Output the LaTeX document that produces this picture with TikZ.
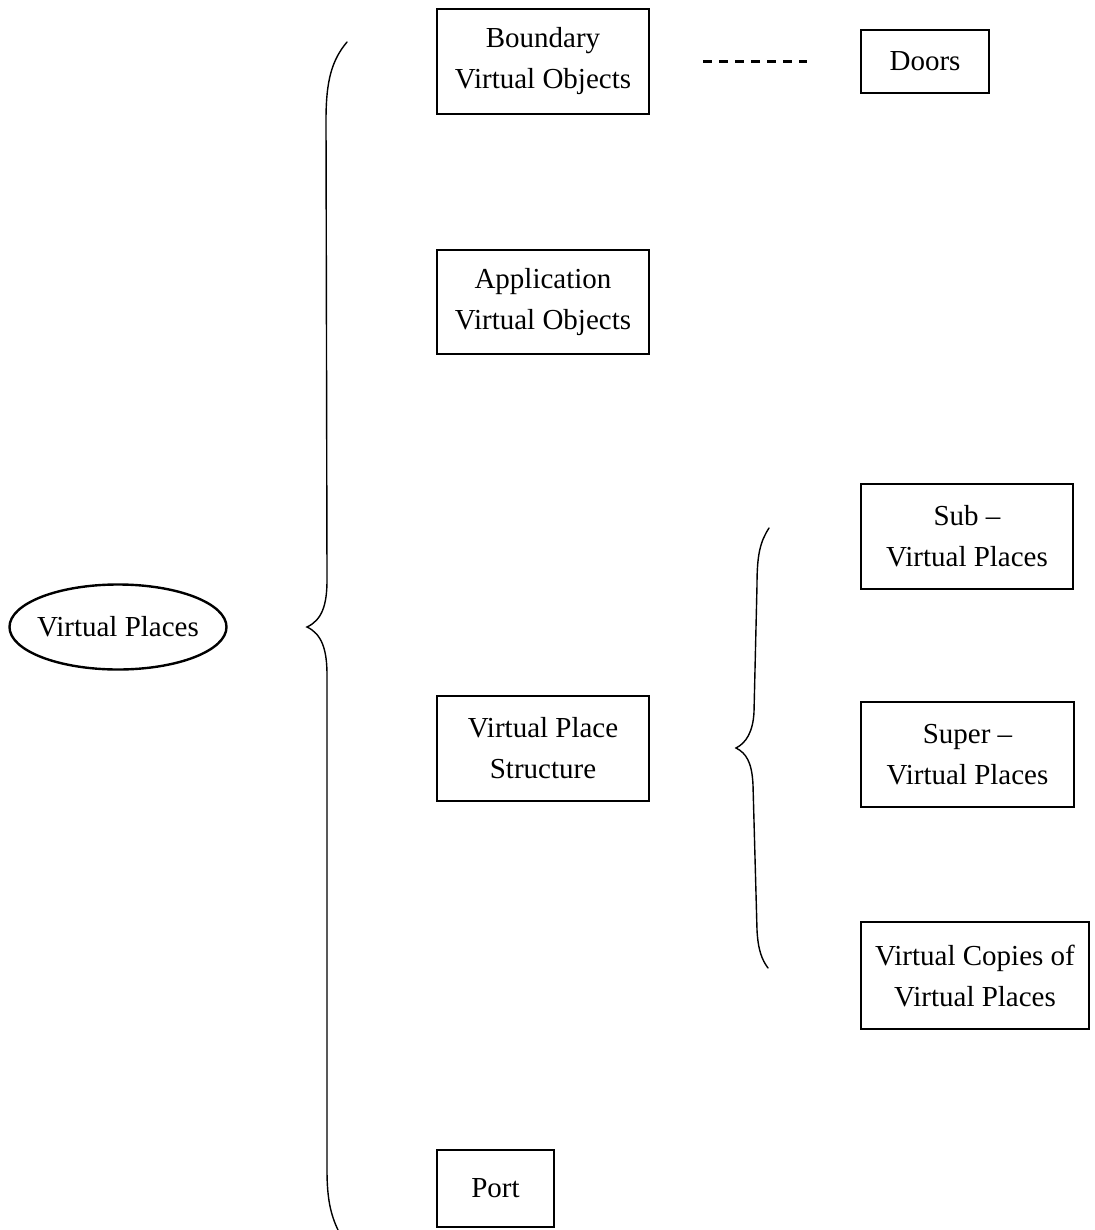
\documentclass[tikz,border=0pt]{standalone}
\usepackage{fontspec}
\setmainfont{Liberation Serif}
\usetikzlibrary{shapes.geometric}
\begin{document}
\begin{tikzpicture}[x=1pt,y=-1pt,
  every node/.style={font=\fontsize{29}{41}\selectfont, align=center, inner sep=0pt},
  box/.style={draw, line width=2.4pt, minimum width=#1},
  oval/.style={draw, ellipse, line width=2.4pt, inner xsep=-5pt, minimum width=217pt, minimum height=85pt},
  brace/.style={line width=1.4pt, line cap=round},
  dashlink/.style={line width=2.4pt, dash pattern=on 9pt off 7pt}]
\useasboundingbox (0,0) rectangle (1094,1230);

% root
\node[oval] (vp) at (118,627) {Virtual Places};

% first level
\node[box=212pt, minimum height=105pt] (bvo) at (543,61.5) {Boundary\\Virtual Objects};
\node[box=212pt, minimum height=104pt] (avo) at (543,302) {Application\\Virtual Objects};
\node[box=212pt, minimum height=105pt] (vps) at (543,748.5) {Virtual Place\\Structure};
\node[box=117pt, minimum height=77pt] (port) at (495.5,1188.5) {Port};

% second level
\node[box=128pt, minimum height=63pt] (doors) at (925,61.5) {Doors};
\node[box=212pt, minimum height=105pt] (sub) at (967,536.5) {Sub --\\Virtual Places};
\node[box=213pt, minimum height=105pt] (super) at (967.5,754.5) {Super --\\Virtual Places};
\node[box=228pt, minimum height=107pt] (copies) at (975,975.5) {Virtual Copies of\\Virtual Places};

% dashed association
\draw[dashlink, shorten <=53pt, shorten >=53pt] (bvo.east) -- (doors.west);

% large brace
\draw[brace] (347,42) .. controls (332,60) and (326,80) .. (326,120)
  -- (327,580) .. controls (327,605) and (322,620) .. (307,627)
  .. controls (322,634) and (327,650) .. (327,675)
  -- (327,1170) .. controls (327,1200) and (331,1215) .. (338,1230);

% small brace
\draw[brace] (769,528) .. controls (760,542) and (757,555) .. (757,585)
  -- (754,712) .. controls (753,732) and (746,743) .. (736,748)
  .. controls (746,753) and (752,762) .. (753,785)
  -- (757,930) .. controls (758,950) and (762,960) .. (768,968);
\end{tikzpicture}
\end{document}
